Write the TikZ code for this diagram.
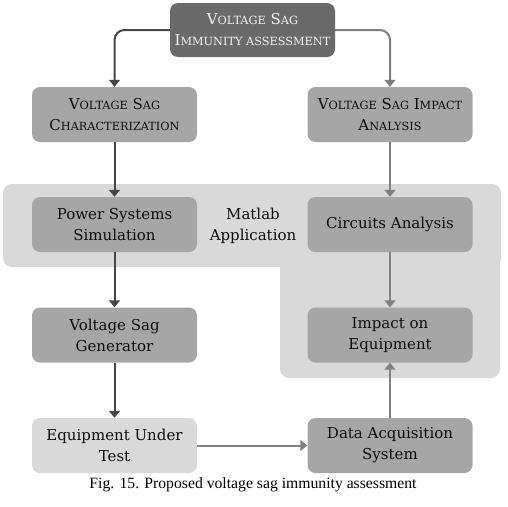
\documentclass[tikz,border=0pt]{standalone}
\usepackage{fontspec}
\setmainfont{DejaVu Serif}
\newfontfamily\capfont{Liberation Serif}
\usepackage{tikz}
\usetikzlibrary{arrows.meta, positioning, calc}

\definecolor{topgray}{HTML}{6A6A6A}
\definecolor{midgray}{HTML}{A6A6A6}
\definecolor{lightgray}{HTML}{D9D9D9}
\definecolor{darkline}{HTML}{454545}
\definecolor{greyline}{HTML}{808080}

% fake small capitals
\newcommand{\sm}[1]{{\fontsize{11.3}{11.3}\selectfont #1}}

\begin{document}
\begin{tikzpicture}[x=1pt, y=-1pt,
    box/.style={rectangle, rounded corners=8pt, minimum width=165pt, minimum height=55pt,
        align=center, inner sep=2pt, font=\fontsize{15}{21}\selectfont, text=black!95},
    darkbox/.style={box, fill=topgray, text=white!95!black, minimum height=54pt},
    midbox/.style={box, fill=midgray},
    lightbox/.style={box, fill=lightgray},
    darkarrow/.style={-{Triangle[width=11pt,length=7pt]}, line width=2pt, darkline},
    greyarrow/.style={-{Triangle[width=11pt,length=7pt]}, line width=2pt, greyline}]
    \useasboundingbox (0,0) rectangle (508,506);

    % Matlab background
    \fill[lightgray, rounded corners=9pt] (3,184) rectangle (501,267);
    \fill[lightgray, rounded corners=9pt] (280,250) rectangle (500,378);
    \node[align=center, font=\fontsize{15}{21}\selectfont, text=black!95] (matlab) at (253,226) {Matlab\\Application};

    % Boxes
    \node[darkbox] (assess) at (252.5,30) {V\sm{OLTAGE} S\sm{AG}\\I\sm{MMUNITY ASSESSMENT}};
    \node[midbox] (charact) at (114.5,114.5) {V\sm{OLTAGE} S\sm{AG}\\C\sm{HARACTERIZATION}};
    \node[midbox] (impact) at (390,114.5) {V\sm{OLTAGE} S\sm{AG} I\sm{MPACT}\\A\sm{NALYSIS}};
    \node[midbox] (simul) at (114.5,224.5) {Power Systems\\Simulation};
    \node[midbox] (circuits) at (390,224.5) {Circuits Analysis};
    \node[midbox] (generator) at (114.5,335) {Voltage Sag\\Generator};
    \node[midbox] (equip) at (390,335) {Impact on\\Equipment};
    \node[lightbox] (eut) at (114.5,445.5) {Equipment Under\\Test};
    \node[midbox] (daq) at (390,445.5) {Data Acquisition\\System};

    % Connectors
    \draw[darkarrow, rounded corners=10pt] (assess.west) -| (charact.north);
    \draw[greyarrow, rounded corners=10pt] (assess.east) -| (impact.north);
    \draw[darkarrow] (charact) -- (simul);
    \draw[greyarrow] (impact) -- (circuits);
    \draw[darkarrow] (simul) -- (generator);
    \draw[greyarrow] (circuits) -- (equip);
    \draw[darkarrow] (generator) -- (eut);
    \draw[greyarrow] (eut) -- (daq);
    \draw[greyarrow] (daq) -- (equip);

    % Caption
    \node[font=\capfont\fontsize{15.7}{17}\selectfont] (caption) at (253,485) {Fig. 15. Proposed voltage sag immunity assessment};
\end{tikzpicture}
\end{document}
